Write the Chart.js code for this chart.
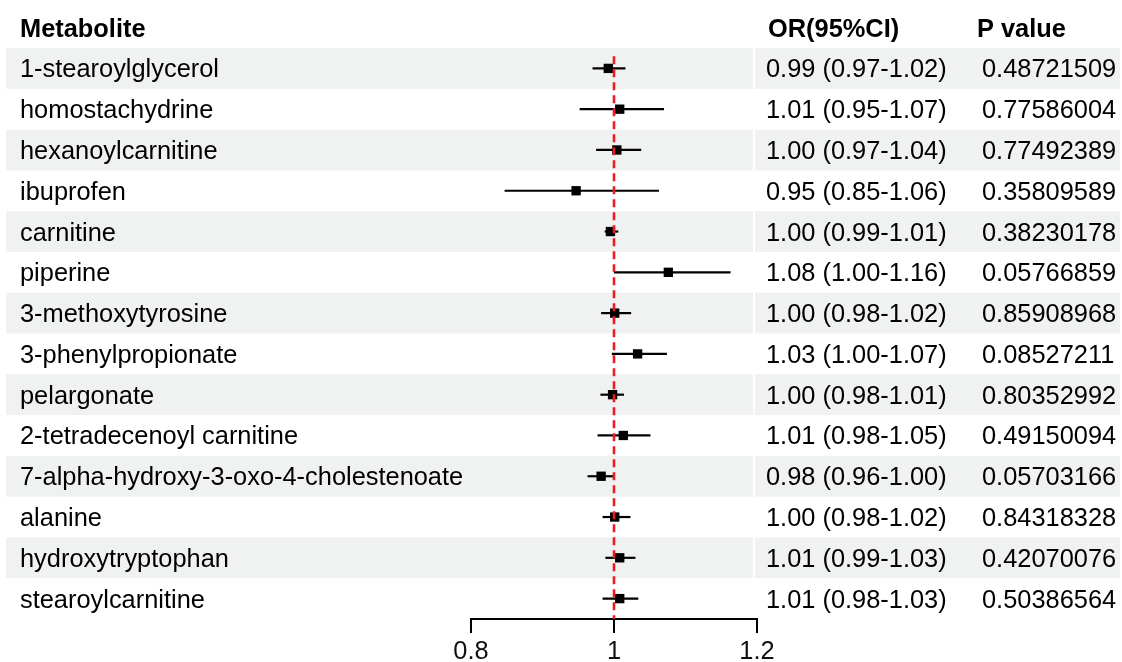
<!DOCTYPE html>
<html>
<head>
<meta charset="utf-8">
<script src="https://cdn.jsdelivr.net/npm/chart.js@4.4.1/dist/chart.umd.min.js"></script>
<style>
    html, body { margin: 0; padding: 0; background: #fff; }
    #forest { display: block; }
</style>
</head>
<body>
<canvas id="forest" width="1122" height="662"></canvas>
<script>
const metabolites = [
    '1-stearoylglycerol', 'homostachydrine', 'hexanoylcarnitine', 'ibuprofen',
    'carnitine', 'piperine', '3-methoxytyrosine', '3-phenylpropionate',
    'pelargonate', '2-tetradecenoyl carnitine', '7-alpha-hydroxy-3-oxo-4-cholestenoate',
    'alanine', 'hydroxytryptophan', 'stearoylcarnitine'
];
const orText = [
    '0.99 (0.97-1.02)', '1.01 (0.95-1.07)', '1.00 (0.97-1.04)', '0.95 (0.85-1.06)',
    '1.00 (0.99-1.01)', '1.08 (1.00-1.16)', '1.00 (0.98-1.02)', '1.03 (1.00-1.07)',
    '1.00 (0.98-1.01)', '1.01 (0.98-1.05)', '0.98 (0.96-1.00)', '1.00 (0.98-1.02)',
    '1.01 (0.99-1.03)', '1.01 (0.98-1.03)'
];
const pValues = [
    '0.48721509', '0.77586004', '0.77492389', '0.35809589', '0.38230178', '0.05766859',
    '0.85908968', '0.08527211', '0.80352992', '0.49150094', '0.05703166', '0.84318328',
    '0.42070076', '0.50386564'
];
const estimate = [0.992, 1.008, 1.004, 0.947, 0.995, 1.076, 1.001, 1.033, 0.998, 1.013, 0.982, 1.001, 1.008, 1.008];
const ciLow    = [0.970, 0.952, 0.975, 0.847, 0.987, 1.000, 0.982, 0.997, 0.981, 0.977, 0.963, 0.984, 0.988, 0.984];
const ciHigh   = [1.016, 1.070, 1.038, 1.063, 1.006, 1.163, 1.024, 1.074, 1.014, 1.051, 1.000, 1.023, 1.030, 1.034];
const xTicks = [0.8, 1, 1.2];
const refValue = 1;

document.addEventListener('DOMContentLoaded', () => {
    const FONT = '"Liberation Sans", Arial, sans-serif';
    const SHADE = '#eff2f1';

    // row shading + table text, placed with the y scale
    const tablePlugin = {
        id: 'forestTable',
        beforeDraw(chart) {
            const ctx = chart.ctx;
            const y = chart.scales.y;
            ctx.save();
            ctx.fillStyle = '#fff';
            ctx.fillRect(0, 0, chart.width, chart.height);
            metabolites.forEach((m, i) => {
                if (i % 2 !== 0) return;
                const top = y.getPixelForValue(i + 0.5);
                const bottom = y.getPixelForValue(i + 1.5);
                ctx.fillStyle = SHADE;
                ctx.fillRect(6, top, 747, bottom - top);
                ctx.fillRect(755, top, 365, bottom - top);
            });
            ctx.restore();
        },
        afterDraw(chart) {
            const ctx = chart.ctx;
            const y = chart.scales.y;
            ctx.save();
            ctx.textBaseline = 'alphabetic';
            ctx.textAlign = 'left';
            ctx.fillStyle = '#000';
            ctx.font = 'bold 25.4px ' + FONT;
            ctx.fillText('Metabolite', 20, 37);
            ctx.fillText('OR(95%CI)', 768, 37);
            ctx.fillText('P value', 977, 37);

            ctx.font = '25.4px ' + FONT;
            metabolites.forEach((m, i) => {
                const yc = y.getPixelForValue(i + 1) + 9;
                ctx.fillText(m, 20, yc);
                ctx.fillText(orText[i], 766, yc);
                ctx.fillText(pValues[i], 982, yc);
            });
            ctx.restore();
        }
    };

    const ciSets = metabolites.map((m, i) => ({
        type: 'line',
        label: m,
        data: [{ x: ciLow[i], y: i + 1 }, { x: ciHigh[i], y: i + 1 }],
        borderColor: '#000',
        borderWidth: 2.2,
        pointRadius: 0,
        order: 2
    }));

    new Chart(document.getElementById('forest'), {
        type: 'scatter',
        data: {
            datasets: [
                {
                    type: 'line',
                    label: 'ref',
                    data: [{ x: refValue, y: 0.7 }, { x: refValue, y: 14.5 }],
                    borderColor: '#ec1c24',
                    borderWidth: 2.6,
                    borderDash: [8, 5],
                    pointRadius: 0,
                    order: 0
                },
                {
                    label: 'OR',
                    data: estimate.map((v, i) => ({ x: v, y: i + 1 })),
                    pointStyle: 'rect',
                    pointRadius: 6.6,
                    backgroundColor: '#000',
                    borderColor: '#000',
                    borderWidth: 0,
                    order: 1
                },
                ...ciSets
            ]
        },
        options: {
            responsive: false,
            animation: false,
            events: [],
            layout: { padding: { left: 471, right: 365, top: 48, bottom: 0 } },
            plugins: {
                legend: { display: false },
                tooltip: { enabled: false }
            },
            scales: {
                x: {
                    type: 'linear',
                    min: 0.8,
                    max: 1.2,
                    afterBuildTicks: (scale) => {
                        scale.ticks = xTicks.map(v => ({ value: v }));
                    },
                    afterFit: (scale) => {
                        scale.height = 43;
                    },
                    border: { display: true, color: '#000', width: 2 },
                    grid: {
                        drawOnChartArea: false,
                        drawTicks: true,
                        tickLength: 14,
                        tickColor: '#000',
                        lineWidth: 2
                    },
                    ticks: {
                        padding: 4,
                        color: '#111',
                        font: { family: FONT, size: 25.4 },
                        maxRotation: 0,
                        callback: (v) => String(v)
                    }
                },
                y: {
                    type: 'linear',
                    display: false,
                    reverse: true,
                    min: 0.5,
                    max: 14.5
                }
            }
        },
        plugins: [tablePlugin]
    });
});
</script>
</body>
</html>
